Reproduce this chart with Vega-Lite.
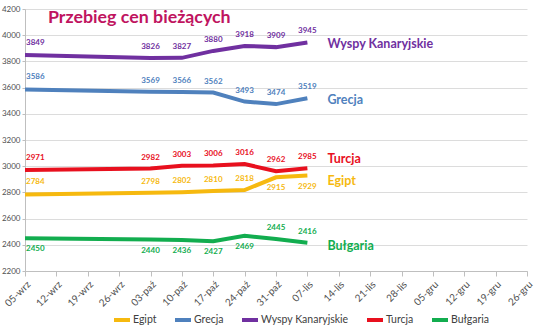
{
  "$schema": "https://vega.github.io/schema/vega-lite/v6.json",
  "width": 502,
  "height": 262,
  "autosize": {"type": "none"},
  "padding": {"left": 25, "top": 9, "right": 9, "bottom": 61},
  "background": "white",
  "title": {
    "text": "Przebieg cen bieżących",
    "anchor": "start",
    "frame": "group",
    "orient": "top",
    "offset": -36,
    "baseline": "alphabetic",
    "dx": 23,
    "font": "Lato",
    "fontSize": 17.8,
    "fontWeight": "bold",
    "color": "#c0145f"
  },
  "datasets": {
    "prices": [
      {"series": "Wyspy Kanaryjskie", "date": "05-wrz", "price": 3849},
      {"series": "Wyspy Kanaryjskie", "date": "03-paź", "price": 3826},
      {"series": "Wyspy Kanaryjskie", "date": "10-paź", "price": 3827},
      {"series": "Wyspy Kanaryjskie", "date": "17-paź", "price": 3880},
      {"series": "Wyspy Kanaryjskie", "date": "24-paź", "price": 3918},
      {"series": "Wyspy Kanaryjskie", "date": "31-paź", "price": 3909},
      {"series": "Wyspy Kanaryjskie", "date": "07-lis", "price": 3945},
      {"series": "Grecja", "date": "05-wrz", "price": 3586},
      {"series": "Grecja", "date": "03-paź", "price": 3569},
      {"series": "Grecja", "date": "10-paź", "price": 3566},
      {"series": "Grecja", "date": "17-paź", "price": 3562},
      {"series": "Grecja", "date": "24-paź", "price": 3493},
      {"series": "Grecja", "date": "31-paź", "price": 3474},
      {"series": "Grecja", "date": "07-lis", "price": 3519},
      {"series": "Turcja", "date": "05-wrz", "price": 2971},
      {"series": "Turcja", "date": "03-paź", "price": 2982},
      {"series": "Turcja", "date": "10-paź", "price": 3003},
      {"series": "Turcja", "date": "17-paź", "price": 3006},
      {"series": "Turcja", "date": "24-paź", "price": 3016},
      {"series": "Turcja", "date": "31-paź", "price": 2962},
      {"series": "Turcja", "date": "07-lis", "price": 2985},
      {"series": "Egipt", "date": "05-wrz", "price": 2784},
      {"series": "Egipt", "date": "03-paź", "price": 2798},
      {"series": "Egipt", "date": "10-paź", "price": 2802},
      {"series": "Egipt", "date": "17-paź", "price": 2810},
      {"series": "Egipt", "date": "24-paź", "price": 2818},
      {"series": "Egipt", "date": "31-paź", "price": 2915},
      {"series": "Egipt", "date": "07-lis", "price": 2929},
      {"series": "Bułgaria", "date": "05-wrz", "price": 2450},
      {"series": "Bułgaria", "date": "03-paź", "price": 2440},
      {"series": "Bułgaria", "date": "10-paź", "price": 2436},
      {"series": "Bułgaria", "date": "17-paź", "price": 2427},
      {"series": "Bułgaria", "date": "24-paź", "price": 2469},
      {"series": "Bułgaria", "date": "31-paź", "price": 2445},
      {"series": "Bułgaria", "date": "07-lis", "price": 2416}
    ],
    "names": [
      {"series": "Wyspy Kanaryjskie", "date": "07-lis", "price": 3930},
      {"series": "Grecja", "date": "07-lis", "price": 3505},
      {"series": "Turcja", "date": "07-lis", "price": 3055},
      {"series": "Egipt", "date": "07-lis", "price": 2887},
      {"series": "Bułgaria", "date": "07-lis", "price": 2391}
    ]
  },
  "encoding": {
    "x": {
      "field": "date",
      "type": "ordinal",
      "sort": null,
      "scale": {
        "type": "point",
        "padding": 0,
        "domain": ["05-wrz", "12-wrz", "19-wrz", "26-wrz", "03-paź", "10-paź", "17-paź", "24-paź", "31-paź", "07-lis", "14-lis", "21-lis", "28-lis", "05-gru", "12-gru", "19-gru", "26-gru"]
      },
      "axis": {
        "title": null,
        "labelAngle": -45,
        "labelFontSize": 10,
        "labelColor": "#505050",
        "labelFont": "Lato",
        "domainColor": "#bfbfbf",
        "tickColor": "#bfbfbf",
        "tickSize": 5,
        "grid": false,
        "labelPadding": 3
      }
    },
    "y": {
      "field": "price",
      "type": "quantitative",
      "scale": {"domain": [2200, 4200], "nice": false, "zero": false},
      "axis": {
        "title": null,
        "format": "d",
        "values": [2200, 2400, 2600, 2800, 3000, 3200, 3400, 3600, 3800, 4000, 4200],
        "labelFontSize": 8,
        "labelColor": "#505050",
        "labelFont": "Lato",
        "domainColor": "#bfbfbf",
        "tickColor": "#bfbfbf",
        "tickSize": 3,
        "labelPadding": 2,
        "gridColor": "#dcdcdc",
        "gridWidth": 1
      }
    },
    "color": {
      "field": "series",
      "type": "nominal",
      "scale": {
        "domain": ["Egipt", "Grecja", "Wyspy Kanaryjskie", "Turcja", "Bułgaria"],
        "range": ["#f6b90f", "#4f81bd", "#7030a0", "#e8101e", "#12ad4f"]
      }
    }
  },
  "layer": [
    {
      "data": {"name": "prices"},
      "mark": {"type": "line", "strokeWidth": 4},
      "encoding": {
        "color": {
          "field": "series",
          "type": "nominal",
          "legend": {
            "orient": "none",
            "legendX": 87,
            "legendY": 301,
            "direction": "horizontal",
            "gridAlign": "none",
            "title": null,
            "symbolType": "stroke",
            "symbolStrokeWidth": 4,
            "symbolSize": 256,
            "labelOffset": 1,
            "labelFontSize": 10.5,
            "labelFont": "Lato",
            "labelColor": "#404040",
            "columnPadding": 10
          }
        }
      }
    },
    {
      "data": {"name": "prices"},
      "transform": [
        {"filter": "datum.date != '05-wrz' && !((datum.series == 'Egipt' && (datum.date == '31-paź' || datum.date == '07-lis')) || datum.series == 'Bułgaria' && datum.date != '31-paź' && datum.date != '07-lis')"}
      ],
      "mark": {"type": "text", "dy": -11, "fontSize": 8, "fontWeight": "bold", "font": "Lato"},
      "encoding": {
        "text": {"field": "price", "type": "quantitative", "format": "d"},
        "color": {"field": "series", "type": "nominal", "legend": null}
      }
    },
    {
      "data": {"name": "prices"},
      "transform": [
        {"filter": "datum.date != '05-wrz' && ((datum.series == 'Egipt' && (datum.date == '31-paź' || datum.date == '07-lis')) || (datum.series == 'Bułgaria' && datum.date != '31-paź' && datum.date != '07-lis'))"}
      ],
      "mark": {"type": "text", "dy": 11, "fontSize": 8, "fontWeight": "bold", "font": "Lato"},
      "encoding": {
        "text": {"field": "price", "type": "quantitative", "format": "d"},
        "color": {"field": "series", "type": "nominal", "legend": null}
      }
    },
    {
      "data": {"name": "prices"},
      "transform": [
        {"filter": "datum.date == '05-wrz' && datum.series != 'Bułgaria'"}
      ],
      "mark": {"type": "text", "align": "left", "dx": 1, "dy": -12, "fontSize": 8, "fontWeight": "bold", "font": "Lato"},
      "encoding": {
        "text": {"field": "price", "type": "quantitative", "format": "d"},
        "color": {"field": "series", "type": "nominal", "legend": null}
      }
    },
    {
      "data": {"name": "prices"},
      "transform": [
        {"filter": "datum.date == '05-wrz' && datum.series == 'Bułgaria'"}
      ],
      "mark": {"type": "text", "align": "left", "dx": 1, "dy": 11, "fontSize": 8, "fontWeight": "bold", "font": "Lato"},
      "encoding": {
        "text": {"field": "price", "type": "quantitative", "format": "d"},
        "color": {"field": "series", "type": "nominal", "legend": null}
      }
    },
    {
      "data": {"name": "names"},
      "mark": {"type": "text", "align": "left", "dx": 20, "fontSize": 12.5, "fontWeight": "bold", "font": "Lato"},
      "encoding": {
        "text": {"field": "series", "type": "nominal"},
        "color": {"field": "series", "type": "nominal", "legend": null}
      }
    }
  ],
  "config": {
    "view": {"stroke": null},
    "axis": {"labelFont": "Lato"},
    "legend": {"labelFont": "Lato"}
  }
}
